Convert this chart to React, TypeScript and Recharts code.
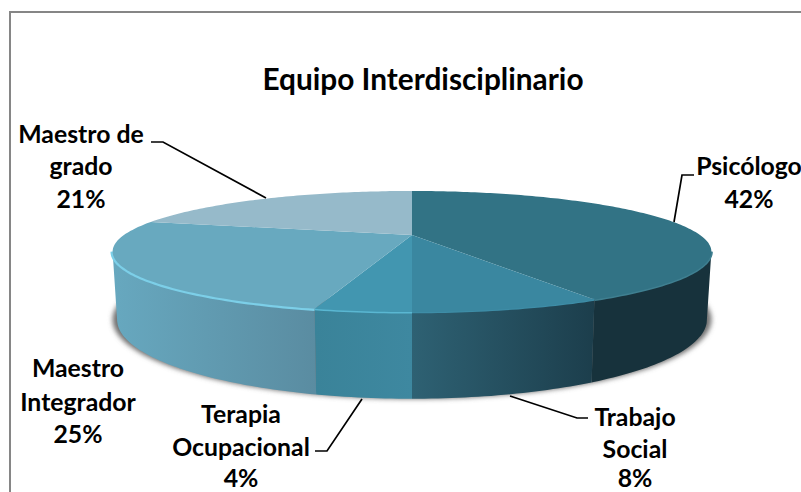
import React from "react";
import { PieChart, Pie } from "recharts";

const categories = ["Psicólogo", "Trabajo Social", "Terapia Ocupacional", "Maestro Integrador", "Maestro de grado"];
const values = [42, 8, 4, 25, 21];
const titleText = "Equipo Interdisciplinario";
const labelLines = [["Psicólogo"], ["Trabajo", "Social"], ["Terapia", "Ocupacional"], ["Maestro", "Integrador"], ["Maestro de", "grado"]];

const topColors = ["#327385", "#3A87A0", "#4296B0", "#68A9BF", "#96BACA"];
const rimColors = ["#3F7F90", "#3E8DA7", "#5AB7D2", "#7CCFE8", "#96BACA"];
const rimWidths = [3, 2.4, 3, 4.4, 0];
const wallStops = [
  ["#17323C", "#17323C"],
  ["#2E6173", "#1C3E4C"],
  ["#3A8399", "#3E88A0"],
  ["#67A8BF", "#5A8CA1"],
  ["#96BACA", "#96BACA"],
];
const labelCenters = [749, 635, 241, 78, 81];
const labelBaselines = [[175, 208], [426, 458, 486.5], [423, 456, 486.5], [377, 411, 443], [143, 175, 208]];
const leaders = [
  "M674 222 L682 175 L694 175",
  "M510 396 L577 418 L588 418",
  "M362 399 L327 451 L315 451",
  "",
  "M151 142 L163 142 L266 198",
];

const W = 801, H = 492, CX = 412, CY = 235, R = 288;
const PERSP = -0.273, TILT = -8.1, DEPTH = 63, TAPER = 0.985;
const FONT = "Lato, Carlito, 'Open Sans', sans-serif";
const SIL_L = 105.8, SIL_R = 254.2;

// Projects a pie angle (clockwise from 12 o'clock) onto the tilted disc
function project(t: number, cx: number, cy: number, r: number) {
  const rad = (t * Math.PI) / 180;
  const u = Math.sin(rad), v = -Math.cos(rad);
  const w = 1 + PERSP * v;
  return { x: cx + (r * u) / w, y: (TILT * v + cy) / w, w };
}
function lower(t: number, cx: number, cy: number, r: number, taper = TAPER) {
  const p = project(t, cx, cy, r);
  return { x: cx + (p.x - cx) * taper, y: p.y + DEPTH / p.w };
}
function range(a: number, b: number) {
  const out: number[] = [];
  for (let t = a; t < b; t += 1) out.push(t);
  out.push(b);
  return out;
}
const toPath = (pts: { x: number; y: number }[]) =>
  pts.map((p, i) => `${i ? "L" : "M"}${p.x.toFixed(1)} ${p.y.toFixed(1)}`).join(" ");

function SliceShape(props: any) {
  const { cx, cy, outerRadius, startAngle, endAngle, index } = props;
  const a = 90 - startAngle, b = 90 - endAngle;
  const top = range(a, b).map((t) => project(t, cx, cy, outerRadius));
  const face = `M${cx} ${cy} ${toPath(top).replace("M", "L")} Z`;
  const lo = Math.max(a, SIL_L), hi = Math.min(b, SIL_R);
  let wall = null;
  if (hi > lo) {
    const ts = range(lo, hi);
    const tp = ts.map((t) => project(t, cx, cy, outerRadius));
    const bt = ts.map((t) => lower(t, cx, cy, outerRadius)).reverse();
    const xs = [...tp, ...bt].map((p) => p.x);
    const id = `wall-${index}`;
    wall = (
      <g>
        <defs>
          <linearGradient id={id} gradientUnits="userSpaceOnUse" x1={Math.min(...xs)} x2={Math.max(...xs)} y1={0} y2={0}>
            <stop offset="0" stopColor={wallStops[index][0]} />
            <stop offset="1" stopColor={wallStops[index][1]} />
          </linearGradient>
        </defs>
        <path d={`${toPath(tp)} ${toPath(bt).replace("M", "L")} Z`} fill={`url(#${id})`} />
        <path d={toPath(tp)} fill="none" stroke={rimColors[index]} strokeWidth={rimWidths[index]} />
      </g>
    );
  }
  const shadow =
    index === 0 ? (
      <g>
        <defs>
          <filter id="base-shadow" x="-5%" y="-20%" width="110%" height="140%">
            <feGaussianBlur stdDeviation="2.5" />
          </filter>
        </defs>
        <path
          d={`${toPath(range(SIL_L - 15, SIL_R + 15).map((t) => lower(t, cx, cy, outerRadius, 1.0)))} Z`}
          fill="#707070"
          filter="url(#base-shadow)"
        />
      </g>
    ) : null;
  return (
    <g>
      {shadow}
      {wall}
      <path d={face} fill={topColors[index]} />
    </g>
  );
}

function SliceLabel(props: any) {
  const { index, value } = props;
  const lines = [...labelLines[index], `${value}%`];
  return (
    <g>
      {leaders[index] ? <path d={leaders[index]} fill="none" stroke="#000" strokeWidth={1.7} /> : null}
      {lines.map((line, i) => (
        <text
          key={i}
          x={labelCenters[index]}
          y={labelBaselines[index][i]}
          textAnchor="middle"
          fontFamily={FONT}
          fontWeight={700}
          fontSize={24.8}
          fill="#000"
        >
          {line}
        </text>
      ))}
    </g>
  );
}

const data = categories.map((name, i) => ({ name, value: values[i] }));

export default function App() {
  return (
    <div style={{ position: "absolute", left: 0, top: 0, width: W, height: H, background: "#fff", overflow: "hidden" }}>
      <div style={{ position: "absolute", left: 9, top: 11, width: W, height: H, border: "2px solid #868686", boxSizing: "border-box" }} />
      <div
        style={{
          position: "absolute",
          left: 0,
          width: 846,
          top: 59,
          textAlign: "center",
          fontFamily: FONT,
          fontWeight: 700,
          fontSize: 29.8,
          lineHeight: "40px",
          color: "#000",
        }}
      >
        {titleText}
      </div>
      <div style={{ position: "absolute", left: 0, top: 0 }}>
        <PieChart width={W} height={H} margin={{ top: 0, right: 0, bottom: 0, left: 0 }}>
          <Pie
            data={data}
            dataKey="value"
            nameKey="name"
            cx={CX}
            cy={CY}
            innerRadius={0}
            outerRadius={R}
            startAngle={90}
            endAngle={-270}
            stroke="none"
            isAnimationActive={false}
            shape={SliceShape}
            label={SliceLabel}
            labelLine={false}
          />
        </PieChart>
      </div>
    </div>
  );
}
